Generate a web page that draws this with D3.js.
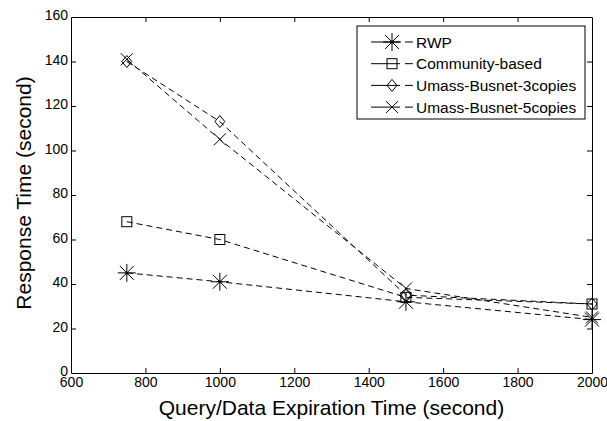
<!DOCTYPE html>
<head>
  <meta charset="utf-8">
  <style>
    body { margin: 0; background: #fff; }
    svg text { font-family: Arial, "Liberation Sans", sans-serif; fill: #000; }
    svg .tick text { font-size: 14px; }
    svg .domain { stroke: #000; }
    svg .tick line { stroke: #000; }
    svg .series { fill: none; stroke: #000; stroke-width: 1px; stroke-dasharray: 6,4; }
    svg .mark { fill: none; stroke: #000; stroke-width: 1px; }
  </style>
</head>
<body>
<script src="https://d3js.org/d3.v7.min.js"></script>
<script>
  // data
  var expiration = [750, 1000, 1500, 2000];
  var rwp        = [45, 41, 32, 24];
  var community  = [68, 60, 34, 31];
  var busnet3    = [140, 113, 35, 31];
  var busnet5    = [141, 105, 38, 25];
  var seriesNames = ["RWP", "Community-based", "Umass-Busnet-3copies", "Umass-Busnet-5copies"];
  var markerKinds = ["star", "square", "diamond", "cross"];
  var xTicks = [600, 800, 1000, 1200, 1400, 1600, 1800, 2000];
  var yTicks = [0, 20, 40, 60, 80, 100, 120, 140, 160];

  var series = [rwp, community, busnet3, busnet5];

  var W = 607, H = 421;
  var plotL = 71, plotR = 592, plotT = 17, plotB = 373;

  var svg = d3.select("body").append("svg")
      .attr("width", W)
      .attr("height", H);

  var x = d3.scaleLinear().domain([600, 2000]).range([plotL, plotR]);
  var y = d3.scaleLinear().domain([0, 160]).range([plotB, plotT]);
  var fmt = d3.format("d");

  // box axes, ticks pointing inward
  svg.append("g")
      .attr("transform", "translate(0," + plotB + ")")
      .call(d3.axisBottom(x).tickValues(xTicks).tickSize(-5).tickSizeOuter(0).tickFormat(fmt))
    .selectAll(".tick text").attr("dy", "0.8em").attr("y", 3);
  svg.append("g")
      .attr("transform", "translate(0," + plotT + ")")
      .call(d3.axisTop(x).tickValues(xTicks).tickSize(-5).tickSizeOuter(0).tickFormat(""));
  svg.append("g")
      .attr("transform", "translate(" + plotL + ",0)")
      .call(d3.axisLeft(y).tickValues(yTicks).tickSize(-5).tickSizeOuter(0).tickFormat(fmt))
    .selectAll(".tick text").attr("x", -3).attr("dy", "0.2em");
  svg.append("g")
      .attr("transform", "translate(" + plotR + ",0)")
      .call(d3.axisRight(y).tickValues(yTicks).tickSize(-5).tickSizeOuter(0).tickFormat(""));

  // remove end ticks sitting on the box corners
  svg.selectAll(".tick line")
    .filter(function (d) { return d === 600 || d === 2000 || d === 0 || d === 160; })
    .remove();

  // axis titles
  svg.append("text")
      .attr("x", (plotL + plotR) / 2)
      .attr("y", 415)
      .attr("text-anchor", "middle")
      .style("font-size", "21px")
      .text("Query/Data Expiration Time (second)");
  svg.append("text")
      .attr("transform", "translate(31," + ((plotT + plotB) / 2 - 2) + ") rotate(-90)")
      .attr("text-anchor", "middle")
      .style("font-size", "21px")
      .text("Response Time (second)");

  // marker drawing
  function marker(g, kind) {
    if (kind === "star") {
      g.append("path").attr("class", "mark")
        .attr("d", "M0,-9V9M-9,0H9M-7,-7L7,7M-7,7L7,-7");
      g.append("circle").attr("r", 1.5).attr("fill", "#000");
    } else if (kind === "square") {
      g.append("rect").attr("class", "mark")
        .attr("x", -5).attr("y", -5).attr("width", 10).attr("height", 10);
    } else if (kind === "diamond") {
      g.append("path").attr("class", "mark")
        .attr("d", "M0,-6L5,0L0,6L-5,0Z");
    } else {
      g.append("path").attr("class", "mark")
        .attr("d", "M-6,-6L6,6M-6,6L6,-6");
    }
  }

  var line = d3.line()
      .x(function (d, i) { return x(expiration[i]); })
      .y(function (d) { return y(d); });

  series.forEach(function (vals, s) {
    svg.append("path")
        .attr("class", "series")
        .attr("d", line(vals));
    vals.forEach(function (v, i) {
      var g = svg.append("g")
          .attr("transform", "translate(" + x(expiration[i]) + "," + y(v) + ")");
      marker(g, markerKinds[s]);
    });
  });

  // legend
  var lg = svg.append("g");
  lg.append("rect")
      .attr("x", 357).attr("y", 26)
      .attr("width", 228).attr("height", 93)
      .attr("fill", "#fff").attr("stroke", "#000");
  seriesNames.forEach(function (name, i) {
    var ly = 42 + i * 21.7;
    lg.append("line")
        .attr("x1", 371).attr("x2", 400).attr("y1", ly).attr("y2", ly)
        .attr("stroke", "#000");
    lg.append("line")
        .attr("x1", 405).attr("x2", 413).attr("y1", ly).attr("y2", ly)
        .attr("stroke", "#000");
    var g = lg.append("g").attr("transform", "translate(392," + ly + ")");
    marker(g, markerKinds[i]);
    lg.append("text")
        .attr("x", 416).attr("y", ly)
        .attr("dy", "0.36em")
        .style("font-size", "15.5px")
        .text(name);
  });
</script>
</body>
</html>
